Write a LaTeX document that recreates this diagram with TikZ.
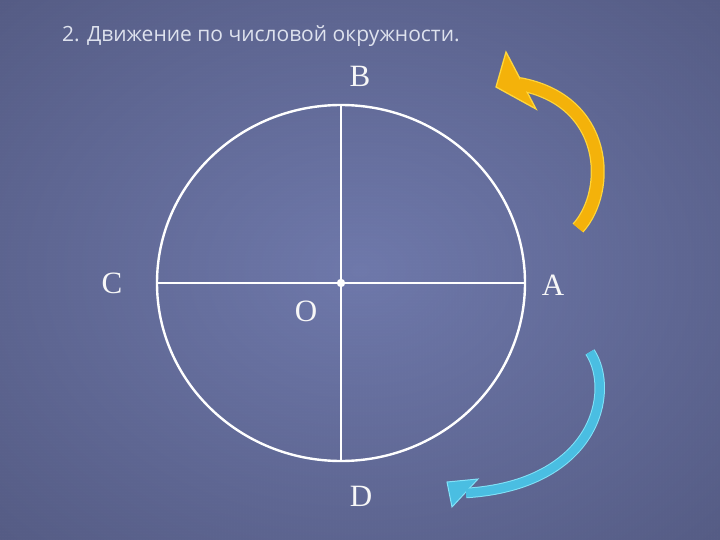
\documentclass[tikz,border=0pt]{standalone}
\usepackage{fontspec}
\usetikzlibrary{patterns}
\setmainfont{Liberation Serif}
\newfontfamily\titlefont{Open Sans}
\definecolor{bgin}{RGB}{110,120,170}
\definecolor{bgout}{RGB}{78,84,122}
\definecolor{bgout2}{RGB}{50,54,82}
\definecolor{titlecol}{RGB}{222,226,238}
\definecolor{goldfill}{RGB}{244,178,10}
\definecolor{goldedge}{RGB}{255,214,60}
\definecolor{bluefill}{RGB}{74,190,226}
\definecolor{blueedge}{RGB}{130,226,248}
\pgfdeclareradialshading{bgshade}{\pgfpoint{0bp}{0bp}}{color(0bp)=(bgin); color(45bp)=(bgout); color(72bp)=(bgout2)}
\begin{document}
\begin{tikzpicture}[x=1pt,y=-1pt,
  lbl/.style={text=white!94!gray,font=\fontsize{31}{31}\selectfont,inner sep=0pt},
  axisline/.style={draw=white,line width=1.4pt},
  goldbody/.style={line width=11.5pt,draw=goldfill},
  goldrim/.style={line width=14pt,draw=goldedge},
  bluebody/.style={line width=8.5pt,draw=bluefill},
  bluerim/.style={line width=10.5pt,draw=blueedge}]
\useasboundingbox (0,0) rectangle (720,540);
\shade[shading=bgshade] (0,0) rectangle (720,540);
\fill[pattern=dots,pattern color=white,opacity=0.06] (0,0) rectangle (720,540);
% title
\node[anchor=base west,inner sep=0pt,text=titlecol,font=\titlefont\fontsize{21}{22}\selectfont] (title) at (62,42) {2. Движение по числовой окружности.};
% circle and axes
\coordinate (O) at (341,283);
\draw[white,line width=2.4pt] (O) ellipse [x radius=184, y radius=178];
\coordinate (Cpt) at (157,283);
\coordinate (Apt) at (525,283);
\coordinate (Bpt) at (341,105);
\coordinate (Dpt) at (341,461);
\draw[axisline] (Cpt) -- (Apt);
\draw[axisline] (Bpt) -- (Dpt);
\fill[white] (O) circle (4.2);
% labels
\node[lbl] (B) at (360,76) {B};
\node[lbl] (C) at (112,283) {C};
\node[lbl] (A) at (553,285) {A};
\node[lbl] (Olbl) at (306,311) {O};
\node[lbl] (D) at (361,496) {D};
% gold arrow
\coordinate (gt) at (578,228);
\coordinate (gh) at (519,84);
\draw[goldrim] (gt) .. controls (612,190) and (608,100) .. (gh);
\filldraw[fill=goldfill,draw=goldedge,line width=1.3pt,line join=miter] (506,52) -- (536,109) -- (496,87) -- cycle;
\draw[goldbody] (gt) .. controls (612,190) and (608,100) .. (gh);
% blue arrow
\coordinate (bt) at (590,352);
\coordinate (bh) at (466,493);
\draw[bluerim] (bt) .. controls (616,392) and (595,485) .. (bh);
\filldraw[fill=bluefill,draw=blueedge,line width=1pt,line join=miter] (447,482) -- (478,479) -- (452,507) -- cycle;
\draw[bluebody] (bt) .. controls (616,392) and (595,485) .. (bh);
\end{tikzpicture}
\end{document}
